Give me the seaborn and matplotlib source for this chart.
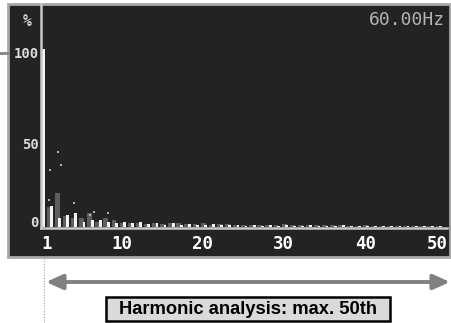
import numpy as np
import matplotlib
matplotlib.use("Agg")
import matplotlib.pyplot as plt
import matplotlib.patches as patches
import matplotlib.transforms as mtransforms
from matplotlib.lines import Line2D
import seaborn as sns

# harmonic orders shown on the analyser screen
harmonics = np.arange(1, 51)

# present value (white bars), %
present = [100, 12, 5, 7, 8, 3, 4, 4, 3, 2,
           3, 2, 3, 1.5, 2, 1, 2, 1, 1.5, 1,
           1, 1.5, 1, 1, 1, 0.8, 1, 0.8, 1, 0.8,
           1, 0.8, 0.8, 1, 0.8, 0.8, 0.8, 1, 0.6, 0.6,
           0.8, 0.6, 0.6, 0.8, 0.6, 0.5, 0.5, 0.5, 0.5, 0.5]

# average value (grey bars), %
average = [0, 11, 19, 6, 5, 5, 8, 3, 5, 4,
           2, 2.5, 2, 1.5, 2, 1.5, 2.5, 2, 1.5, 1.5,
           2, 1, 1.5, 1.5, 1, 1.2, 1, 1, 1.2, 1,
           1.5, 1, 1, 1, 1, 1, 1, 1, 0.8, 0.8,
           1, 0.6, 0.8, 0.8, 0.6, 0.6, 0.6, 0.6, 0.6, 0.5]

# max-hold dots
peak_order = [1.7, 1.8, 2.85, 3.1, 4.8, 6.7, 7.2, 8.9]
peak_value = [15, 32, 42, 35, 13.5, 7, 8.5, 8]

x_ticks = [1, 10, 20, 30, 40, 50]
y_ticks = [0, 50, 100]
freq_label = "60.00Hz"
caption = "Harmonic analysis: max. 50th"

W, H = 451, 323
fig = plt.figure(figsize=(W / 100, H / 100), dpi=100)
fig.patch.set_facecolor("white")
plt.rcParams["font.family"] = ["DejaVu Sans Mono"]

def fx(px):
    return px / W

def fy(py):
    return 1 - py / H

# dark instrument screen (behind the axes)
fig.add_artist(patches.Rectangle((fx(8), fy(257)), fx(442), 253 / H,
                                 transform=fig.transFigure, facecolor="#232323",
                                 edgecolor="#a8a8a8", lw=2, zorder=-5))

ax = fig.add_axes([fx(41), fy(228), fx(406), 224 / H])
ax.set_facecolor("none")
ax.set_zorder(2)

sns.barplot(x=harmonics - 0.3, y=average, native_scale=True, orient="x",
            width=0.6, color="#5e5e5e", linewidth=0, errorbar=None,
            saturation=1, ax=ax)
sns.barplot(x=harmonics, y=present, native_scale=True, orient="x",
            width=0.35, color="#f2f2f2", linewidth=0, errorbar=None,
            saturation=1, ax=ax)
sns.scatterplot(x=peak_order, y=peak_value, s=3, marker="s", color="#b0b0b0",
                linewidth=0, ax=ax)

ax.set_xlim(0.69, 50.81)
ax.set_ylim(-0.56, 125.3)
ax.set_xlabel("")
ax.set_ylabel("")
for s in ["top", "right"]:
    ax.spines[s].set_visible(False)
for s in ["left", "bottom"]:
    ax.spines[s].set_color("#c8c8c8")
    ax.spines[s].set_linewidth(1.8)

ax.set_xticks(x_ticks)
ax.set_xticklabels([str(t) for t in x_ticks])
ax.set_yticks(y_ticks)
ax.set_yticklabels([str(t) for t in y_ticks])
ax.tick_params(axis="x", length=0, pad=5, colors="white", labelsize=12.5)
ax.tick_params(axis="y", length=0, pad=1.5, colors="#dcdcdc", labelsize=10)
for lab in ax.get_xticklabels() + ax.get_yticklabels():
    lab.set_fontweight("bold")

# the screen draws its labels slightly off the bar positions
x_shift = [3, 5, 5, 5, 6, -3]
for lab, dx in zip(ax.get_xticklabels(), x_shift):
    lab.set_transform(lab.get_transform() +
                      mtransforms.ScaledTranslation(dx / 100, 0, fig.dpi_scale_trans))
y_shift = [6, -5, -3]
for lab, dy in zip(ax.get_yticklabels(), y_shift):
    lab.set_transform(lab.get_transform() +
                      mtransforms.ScaledTranslation(0, dy / 100, fig.dpi_scale_trans))

fig.text(fx(27), fy(21), "%", ha="center", va="center", color="#cfcfcf",
         fontsize=10.5, fontweight="bold")
fig.text(fx(445), fy(20), freq_label, ha="right", va="center", color="#b4b4b4",
         fontsize=13)

# callout line on the left, dotted guide and span arrow
fig.add_artist(Line2D([0, fx(8)], [fy(53), fy(53)], transform=fig.transFigure,
                      color="#8a8a8a", lw=2.2))
fig.add_artist(Line2D([fx(43.5), fx(43.5)], [0, fy(258)], transform=fig.transFigure,
                      color="#a0a0a0", lw=0.8, ls=(0, (1, 1.5))))
fig.add_artist(patches.FancyArrowPatch((fx(46), fy(282)), (fx(450), fy(282)),
                                       transform=fig.transFigure,
                                       arrowstyle="<|-|>,head_length=1.0,head_width=0.45",
                                       mutation_scale=10, lw=2.8, color="#808080",
                                       shrinkA=0, shrinkB=0))

fig.add_artist(patches.Rectangle((fx(106), fy(321)), fx(284), 24 / H,
                                 transform=fig.transFigure, facecolor="#dadada",
                                 edgecolor="black", lw=1.8))
fig.text(fx(248), fy(309.5), caption, ha="center", va="center", color="black",
         fontsize=13.2, fontweight="bold", family=["Liberation Sans"])

fig.savefig("out.png", dpi=100)
